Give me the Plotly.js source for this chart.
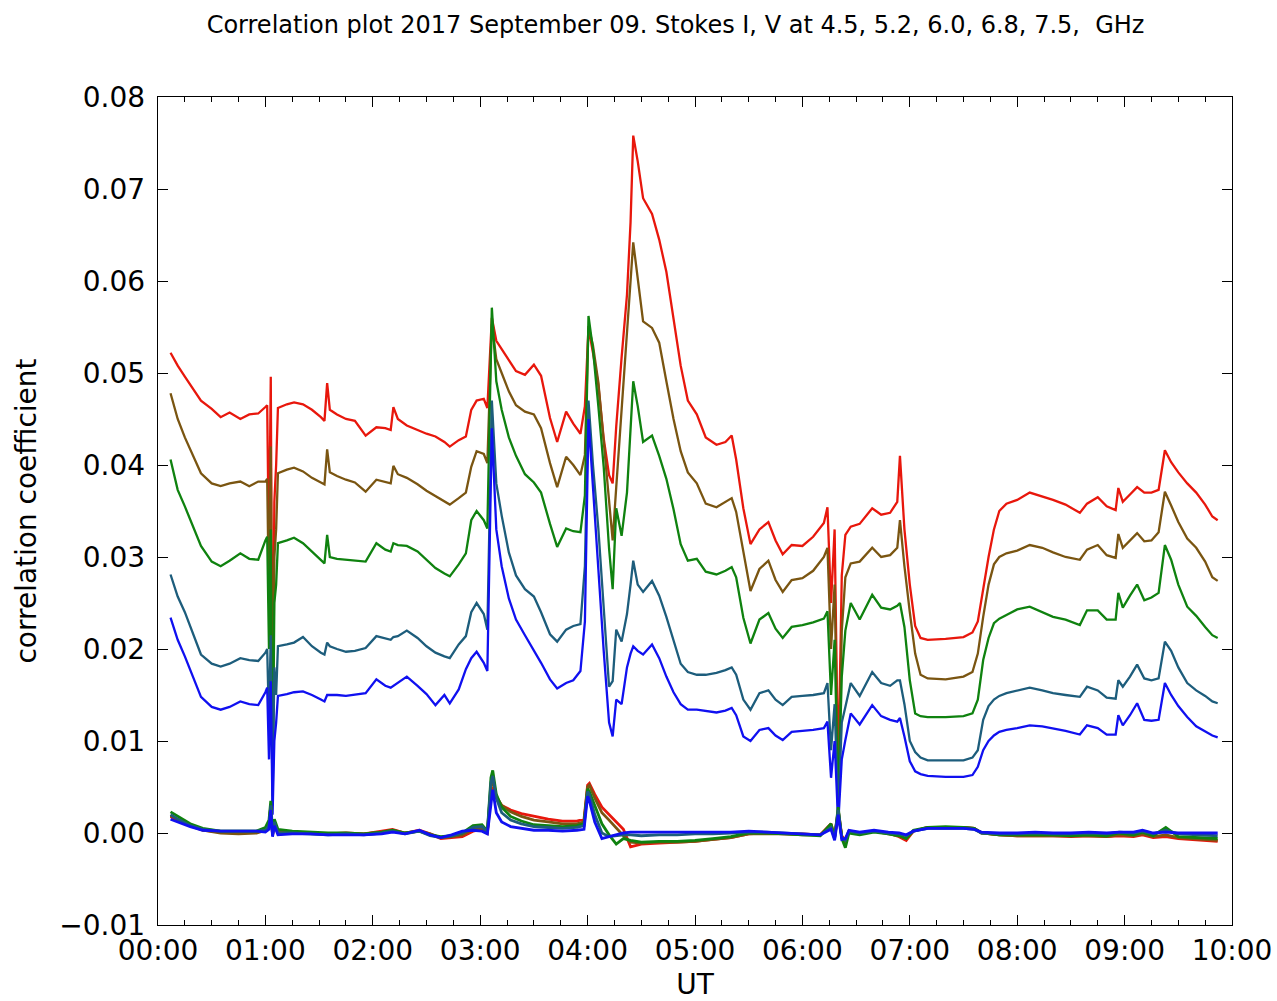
<!DOCTYPE html>
<html>
<head>
<meta charset="utf-8">
<script src="https://cdn.plot.ly/plotly-3.0.1.min.js"></script>
<style>html,body{margin:0;padding:0;background:#fff;}#chart{width:1277px;height:1001px;}</style>
</head>
<body>
<div id="chart"></div>
<script>
// ---- time (minutes after 00:00 UT) for Stokes I series ----
const tI = [
 7, 11, 15, 19, 24, 30, 35, 40, 46, 51,
 56, 60, 61, 62, 63, 64, 65, 66, 67, 72,
 76, 81, 86, 91, 93, 94.5, 96, 100, 105, 110,
 116, 122, 127, 130, 131.5, 134, 139, 145, 150, 155,
 160, 163, 168, 172, 175, 178, 182, 184, 186.5, 189,
 192, 196, 200, 205, 210, 214, 219, 223, 228, 232,
 236, 238.5, 240.5, 243, 246, 249, 252, 254, 256, 259,
 262, 264, 265.5, 268, 271, 276, 280, 284, 288, 292,
 296, 301, 306, 312, 317, 320.5, 323, 327, 331, 336,
 341, 345, 349, 354, 360, 366, 372, 374, 376, 378,
 380, 382, 384, 387, 392, 399, 404, 409, 413, 414.5,
 417, 420, 423, 426, 430, 440, 450, 455, 458, 461,
 464, 467, 470, 474, 480, 487, 494, 500, 507, 515,
 519, 525, 530, 535, 536.5, 539, 543, 547, 551, 555,
 559, 562.5, 566, 570, 575, 580, 585, 589, 592
];
// Stokes I, 4.5 GHz (red)
const I45 = [
 .0522,.0508,.0496,.0484,.0470,.0461,.0452,.0457,.0450,.0455,
 .0456,.0463,.0465,.0300,.0496,.0100,.0360,.0400,.0462,.0466,
 .0468,.0466,.0460,.0452,.0448,.0489,.0460,.0455,.0450,.0448,
 .0432,.0441,.0440,.0438,.0463,.0450,.0443,.0438,.0434,.0431,
 .0425,.0420,.0427,.0431,.0460,.0470,.0472,.0462,.0560,.0535,
 .0526,.0515,.0502,.0498,.0509,.0497,.0451,.0425,.0458,.0445,
 .0434,.0464,.0549,.0522,.0487,.0429,.0389,.0380,.0442,.0517,
 .0585,.0664,.0758,.0730,.0690,.0673,.0645,.0610,.0560,.0508,
 .0470,.0455,.0430,.0422,.0425,.0432,.0406,.0353,.0314,.0330,
 .0338,.0318,.0303,.0313,.0312,.0322,.0337,.0354,.0250,.0330,
 .0060,.0280,.0324,.0333,.0336,.0353,.0346,.0348,.0360,.0410,
 .0330,.0270,.0225,.0212,.0210,.0211,.0213,.0218,.0230,.0265,
 .0300,.0330,.0350,.0358,.0362,.0370,.0366,.0362,.0357,.0348,
 .0358,.0365,.0355,.0351,.0375,.0360,.0368,.0376,.0370,.0370,
 .0373,.0416,.0403,.0392,.0380,.0370,.0357,.0344,.0340
];
// Stokes I, 5.2 GHz (brown)
const I52 = [
 .0478,.0450,.0430,.0412,.0391,.0380,.0377,.0380,.0382,.0377,
 .0382,.0382,.0385,.0250,.0420,.0060,.0300,.0330,.0391,.0395,
 .0397,.0393,.0386,.0381,.0379,.0417,.0392,.0388,.0384,.0381,
 .0371,.0384,.0382,.0380,.0399,.0390,.0386,.0379,.0372,.0366,
 .0360,.0357,.0364,.0370,.0398,.0415,.0412,.0402,.0553,.0515,
 .0500,.0480,.0465,.0458,.0455,.0440,.0402,.0376,.0409,.0400,
 .0389,.0411,.0551,.0530,.0490,.0425,.0367,.0318,.0376,.0464,
 .0545,.0600,.0642,.0602,.0556,.0549,.0533,.0491,.0450,.0415,
 .0392,.0380,.0358,.0354,.0360,.0364,.0349,.0304,.0263,.0287,
 .0296,.0275,.0262,.0275,.0277,.0285,.0300,.0310,.0200,.0270,
 .0040,.0220,.0278,.0293,.0295,.0310,.0300,.0302,.0310,.0340,
 .0290,.0240,.0195,.0172,.0168,.0167,.0170,.0175,.0195,.0235,
 .0270,.0292,.0300,.0304,.0307,.0313,.0310,.0305,.0300,.0297,
 .0308,.0313,.0302,.0299,.0325,.0310,.0318,.0326,.0317,.0318,
 .0327,.0371,.0356,.0338,.0320,.0310,.0295,.0278,.0274
];
// Stokes I, 6.0 GHz (green)
const I60 = [
 .0406,.0373,.0355,.0336,.0312,.0295,.0290,.0296,.0304,.0298,
 .0297,.0318,.0322,.0200,.0330,.0040,.0250,.0270,.0315,.0318,
 .0321,.0315,.0306,.0297,.0293,.0324,.0300,.0298,.0297,.0296,
 .0295,.0315,.0308,.0306,.0315,.0313,.0312,.0306,.0297,.0288,
 .0282,.0279,.0292,.0304,.0340,.0350,.0340,.0331,.0571,.0491,
 .0460,.0430,.0410,.0390,.0381,.0370,.0336,.0311,.0331,.0328,
 .0327,.0367,.0562,.0526,.0464,.0398,.0309,.0265,.0353,.0323,
 .0370,.0440,.0491,.0464,.0425,.0432,.0410,.0385,.0352,.0314,
 .0296,.0298,.0284,.0281,.0285,.0289,.0278,.0234,.0206,.0232,
 .0239,.0222,.0212,.0224,.0226,.0229,.0233,.0241,.0150,.0210,
 .0030,.0170,.0220,.0250,.0232,.0259,.0245,.0243,.0247,.0250,
 .0224,.0166,.0130,.0127,.0126,.0126,.0127,.0130,.0145,.0188,
 .0212,.0228,.0233,.0237,.0243,.0246,.0240,.0235,.0232,.0226,
 .0242,.0242,.0232,.0232,.0261,.0245,.0258,.0270,.0253,.0256,
 .0261,.0313,.0297,.0270,.0246,.0236,.0224,.0215,.0212
];
// Stokes I, 6.8 GHz (teal)
const I68 = [
 .0281,.0257,.0240,.0220,.0194,.0184,.0181,.0184,.0190,.0188,
 .0187,.0196,.0200,.0120,.0215,.0030,.0180,.0150,.0203,.0205,
 .0207,.0213,.0203,.0196,.0194,.0207,.0203,.0200,.0197,.0198,
 .0201,.0214,.0211,.0210,.0213,.0214,.0220,.0212,.0203,.0196,
 .0192,.0190,.0205,.0214,.0240,.0250,.0238,.0221,.0470,.0380,
 .0345,.0305,.0280,.0265,.0257,.0240,.0216,.0208,.0221,.0225,
 .0227,.0290,.0470,.0400,.0331,.0242,.0159,.0165,.0221,.0208,
 .0238,.0270,.0296,.0270,.0262,.0274,.0258,.0235,.0210,.0184,
 .0175,.0172,.0172,.0174,.0177,.0180,.0172,.0145,.0134,.0152,
 .0155,.0145,.0139,.0148,.0149,.0150,.0152,.0163,.0090,.0140,
 .0020,.0120,.0137,.0163,.0149,.0175,.0163,.0160,.0166,.0166,
 .0140,.0100,.0088,.0082,.0079,.0079,.0079,.0082,.0090,.0123,
 .0138,.0145,.0149,.0152,.0155,.0158,.0155,.0152,.0150,.0148,
 .0159,.0155,.0147,.0146,.0166,.0159,.0170,.0183,.0168,.0166,
 .0168,.0208,.0198,.0180,.0163,.0155,.0149,.0143,.0141
];
// Stokes I, 7.5 GHz (blue)
const I75 = [
 .0234,.0210,.0192,.0173,.0148,.0137,.0134,.0137,.0143,.0140,
 .0139,.0153,.0158,.0080,.0165,.0020,.0100,.0120,.0149,.0151,
 .0153,.0154,.0150,.0145,.0143,.0150,.0150,.0150,.0149,.0150,
 .0152,.0167,.0160,.0158,.0160,.0163,.0170,.0160,.0151,.0139,
 .0150,.0141,.0156,.0178,.0190,.0197,.0185,.0176,.0440,.0330,
 .0290,.0255,.0232,.0215,.0199,.0185,.0167,.0157,.0163,.0166,
 .0176,.0230,.0450,.0380,.0287,.0198,.0120,.0105,.0145,.0140,
 .0180,.0195,.0203,.0198,.0194,.0205,.0190,.0170,.0153,.0140,
 .0134,.0134,.0133,.0131,.0133,.0136,.0128,.0105,.0100,.0112,
 .0114,.0106,.0101,.0110,.0111,.0112,.0114,.0121,.0060,.0100,
 .0010,.0080,.0101,.0130,.0118,.0139,.0127,.0123,.0121,.0125,
 .0105,.0078,.0067,.0064,.0062,.0061,.0061,.0063,.0072,.0090,
 .0100,.0106,.0110,.0112,.0114,.0117,.0116,.0114,.0111,.0107,
 .0117,.0114,.0107,.0107,.0128,.0117,.0128,.0141,.0123,.0122,
 .0123,.0163,.0150,.0138,.0126,.0116,.0110,.0106,.0104
];

// ---- time (minutes) for Stokes V series ----
const tV = [
 7, 12, 18, 25, 35, 45, 55, 60, 62, 63,
 64, 65, 67, 75, 85, 95, 105, 115, 125, 131,
 138, 146, 152, 158, 164, 170, 176, 181, 184, 186,
 187, 189, 192, 197, 203, 210, 218, 226, 234, 238,
 240, 241, 244, 248, 252, 256, 260, 264, 270, 280,
 290, 300, 310, 320, 330, 340, 350, 360, 370, 376,
 378, 380, 382, 384, 386, 392, 400, 408, 414, 418,
 422, 430, 440, 450, 456, 460, 470, 480, 490, 500,
 510, 520, 530, 537, 545, 550, 556, 563, 570, 580,
 592
];
const V45 = [
 .0018,.0013,.0008,.0003,.0001,.0000,.0001,.0003,.0008,.0030,
 -.0003,.0012,.0001,.0001,.0000,-.0001,.0000,-.0001,.0002,.0004,
 .0000,.0003,-.0001,-.0006,-.0005,-.0004,.0002,.0004,.0000,.0040,
 .0050,.0038,.0030,.0025,.0021,.0018,.0015,.0013,.0013,.0015,
 .0052,.0054,.0042,.0028,.0020,.0012,.0004,-.0015,-.0012,-.0011,
 -.0010,-.0009,-.0007,-.0005,-.0001,.0000,-.0001,-.0001,-.0002,.0010,
 -.0004,.0025,-.0003,-.0008,.0002,.0000,.0002,.0000,-.0004,-.0008,
 .0002,.0006,.0006,.0006,.0005,.0000,-.0002,-.0003,-.0003,-.0003,
 -.0004,-.0003,-.0004,-.0003,-.0004,-.0002,-.0005,-.0004,-.0006,-.0007,
 -.0009
];
const V52 = [
 .0019,.0014,.0008,.0003,.0000,-.0001,.0000,.0003,.0010,.0028,
 -.0002,.0012,.0002,.0001,.0000,-.0001,-.0001,-.0001,.0001,.0003,
 .0000,.0002,-.0001,-.0005,-.0004,-.0002,.0004,.0005,.0001,.0050,
 .0058,.0040,.0030,.0023,.0018,.0014,.0012,.0010,.0010,.0012,
 .0050,.0052,.0038,.0022,.0014,.0005,-.0003,-.0010,-.0011,-.0010,
 -.0010,-.0009,-.0007,-.0005,-.0001,-.0001,-.0001,-.0002,-.0002,.0008,
 -.0005,.0022,-.0004,-.0010,.0001,-.0001,.0002,-.0001,-.0003,-.0006,
 .0002,.0006,.0006,.0006,.0005,.0000,-.0002,-.0003,-.0003,-.0003,
 -.0003,-.0003,-.0004,-.0002,-.0003,-.0001,-.0004,-.0002,-.0005,-.0006,
 -.0008
];
const V60 = [
 .0023,.0017,.0010,.0005,.0002,.0002,.0002,.0006,.0014,.0035,
 .0000,.0015,.0004,.0002,.0001,.0000,.0000,-.0001,.0001,.0003,
 .0000,.0002,-.0002,-.0004,-.0003,.0000,.0008,.0009,.0002,.0060,
 .0068,.0042,.0028,.0018,.0013,.0009,.0008,.0007,.0008,.0010,
 .0048,.0045,.0030,.0010,-.0002,-.0012,-.0006,-.0008,-.0010,-.0009,
 -.0009,-.0008,-.0006,-.0004,.0000,.0000,-.0001,-.0002,-.0003,.0010,
 -.0005,.0028,-.0006,-.0016,.0000,-.0002,.0001,-.0001,-.0003,-.0006,
 .0003,.0006,.0007,.0006,.0005,.0000,-.0002,-.0002,-.0002,-.0002,
 -.0003,-.0002,-.0003,.0000,-.0002,.0001,-.0003,.0006,-.0004,-.0005,
 -.0006
];
const V68 = [
 .0020,.0014,.0008,.0004,.0002,.0002,.0002,.0003,.0008,.0030,
 -.0002,.0012,.0000,.0000,-.0001,-.0002,-.0001,-.0002,.0000,.0002,
 -.0001,.0002,-.0003,-.0005,-.0003,.0000,.0006,.0007,.0001,.0055,
 .0062,.0038,.0022,.0014,.0010,.0007,.0006,.0005,.0006,.0008,
 .0045,.0042,.0020,.0000,-.0004,-.0003,-.0002,-.0002,-.0003,-.0002,
 -.0002,-.0001,-.0001,.0000,.0001,.0001,.0000,-.0001,-.0002,.0006,
 -.0006,.0025,-.0005,-.0008,.0002,.0000,.0002,.0000,-.0001,-.0003,
 .0002,.0005,.0005,.0005,.0004,.0000,-.0001,-.0001,.0000,-.0001,
 -.0001,.0000,-.0001,.0001,.0000,.0002,-.0001,.0003,-.0001,-.0002,
 -.0003
];
const V75 = [
 .0015,.0011,.0007,.0003,.0002,.0002,.0002,.0001,.0004,.0025,
 -.0004,.0008,-.0002,-.0001,-.0001,-.0002,-.0002,-.0002,-.0001,.0001,
 -.0001,.0003,-.0002,-.0005,-.0002,.0002,.0003,.0002,-.0001,.0035,
 .0047,.0022,.0012,.0007,.0005,.0003,.0003,.0002,.0003,.0004,
 .0040,.0035,.0012,-.0006,-.0004,-.0002,.0000,.0001,.0001,.0001,
 .0001,.0001,.0001,.0001,.0002,.0001,.0000,-.0001,-.0002,.0004,
 -.0008,.0020,-.0007,-.0006,.0003,.0001,.0003,.0001,.0000,-.0002,
 .0002,.0005,.0005,.0005,.0004,.0001,.0000,.0000,.0001,.0000,
 .0000,.0001,.0000,.0001,.0001,.0003,.0000,.0001,.0000,.0000,
 .0000
];

const colors = ['#e8170c', '#7a5511', '#0f820f', '#1d5d7c', '#1010f0'];
const iSeries = [I45, I52, I60, I68, I75];
const vSeries = [V45, V52, V60, V68, V75];
const freqs = ['4.5', '5.2', '6.0', '6.8', '7.5'];

function pad(n) { return (n < 10 ? '0' : '') + n; }
function toTime(m) {
  const s = Math.round(m * 60);
  const h = Math.floor(s / 3600), mm = Math.floor((s % 3600) / 60), ss = s % 60;
  return '2017-09-09 ' + pad(h) + ':' + pad(mm) + ':' + pad(ss);
}
const xI = tI.map(toTime);
const xV = tV.map(toTime);

const traces = [];
iSeries.forEach((ys, k) => {
  traces.push({x: xI, y: ys, type: 'scatter', mode: 'lines', name: 'I ' + freqs[k] + ' GHz',
    line: {color: colors[k], width: 2.3}});
});
vSeries.forEach((ys, k) => {
  traces.push({x: xV, y: ys, type: 'scatter', mode: 'lines', name: 'V ' + freqs[k] + ' GHz',
    line: {color: colors[k], width: 2.8}});
});

const fontFam = 'DejaVu Sans, Liberation Sans, sans-serif';
const layout = {
  width: 1277, height: 1001,
  margin: {l: 158, r: 45, t: 97, b: 76},
  paper_bgcolor: '#ffffff', plot_bgcolor: '#ffffff',
  showlegend: false,
  font: {family: fontFam, color: '#000000', size: 28},
  title: {text: 'Correlation plot 2017 September 09. Stokes I, V at 4.5, 5.2, 6.0, 6.8, 7.5,  GHz',
    font: {family: fontFam, size: 24, color: '#000000'},
    xref: 'container', x: 0.529, xanchor: 'center', yref: 'container', y: 0.975, yanchor: 'middle'},
  xaxis: {
    type: 'date',
    range: ['2017-09-09 00:00:00', '2017-09-09 10:00:00'],
    tick0: '2017-09-09 00:00:00', dtick: 3600000, tickformat: '%H:%M',
    ticks: 'inside', ticklen: 10, tickwidth: 1, tickcolor: '#000',
    minor: {dtick: 900000, ticks: 'inside', ticklen: 5, tickcolor: '#000', showgrid: false},
    showline: true, linecolor: '#000', linewidth: 1.3, mirror: 'ticks',
    showgrid: false, zeroline: false, ticklabelstandoff: 0,
    tickfont: {size: 28}, title: {text: 'UT', font: {size: 28}, standoff: 14}
  },
  yaxis: {
    range: [-0.01, 0.08], dtick: 0.01, tick0: 0, tickformat: '.2f',
    ticks: 'inside', ticklen: 10, tickwidth: 1, tickcolor: '#000',
    showline: true, linecolor: '#000', linewidth: 1.3, mirror: 'ticks',
    showgrid: false, zeroline: false, ticklabelstandoff: 6,
    tickfont: {size: 28}, title: {text: 'correlation coefficient', font: {size: 28}, standoff: 14}
  }
};

Plotly.newPlot('chart', traces, layout, {displayModeBar: false, staticPlot: true});
</script>
</body>
</html>
